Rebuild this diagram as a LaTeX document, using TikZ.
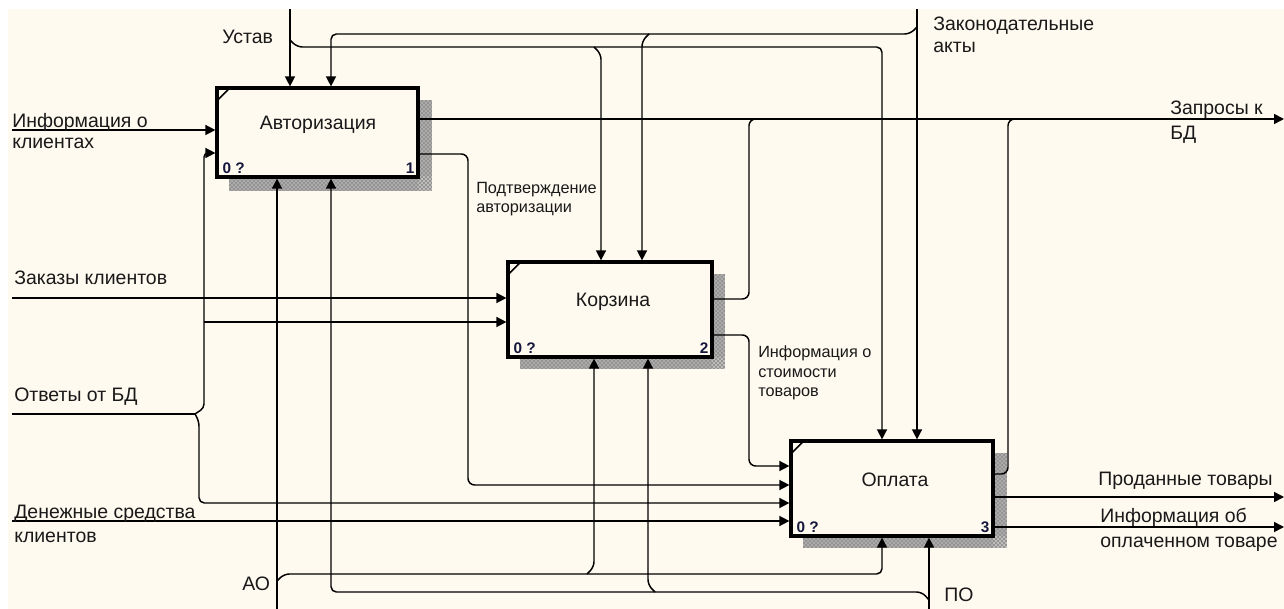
\documentclass[tikz,border=0pt]{standalone}
\usepackage{fontspec}
\setmainfont{Liberation Sans}
\usetikzlibrary{arrows.meta,patterns,calc}
\definecolor{cream}{RGB}{255,250,239}
\definecolor{numcol}{RGB}{20,22,60}
\newcommand{\mylarge}{\fontsize{14.6}{18}\selectfont}
\newcommand{\mysmall}{\fontsize{12.2}{14}\selectfont}
\newcommand{\mynum}{\fontsize{11.5}{13}\selectfont\bfseries}
\begin{document}
\begin{tikzpicture}[x=0.75pt,y=-0.75pt,
  conn/.style={line width=1.1pt, rounded corners=3pt},
  arr/.style={conn, -{Triangle[length=7.5pt,width=7.5pt]}},
  box/.style={draw, line width=2.4pt, fill=cream, inner sep=0pt},
  shadebase/.style={fill=black!42},
  shade/.style={pattern=crosshatch dots, pattern color=cream},
  tl/.style={font=\mylarge, anchor=base west, inner sep=0pt, text=black!90},
  ts/.style={font=\mysmall, anchor=base west, inner sep=0pt, text=black!90},
  bl/.style={font=\mylarge, anchor=base, inner sep=0pt, text=black!90},
  num/.style={font=\mynum, text=numcol, inner sep=0pt}]
% background
\fill[white] (0,0) rectangle (1284,609);
\fill[cream] (8,9) rectangle (1284,609);
\useasboundingbox (0,0) rectangle (1284,609);
% shadows
\foreach \st in {shadebase,shade}{
  \fill[\st] (418,100) rectangle (432,191);
  \fill[\st] (229,177) rectangle (432,191);
  \fill[\st] (712,274) rectangle (725,369);
  \fill[\st] (520,357) rectangle (725,369);
  \fill[\st] (993,453) rectangle (1007,548);
  \fill[\st] (803,536) rectangle (1007,548);
}
% boxes
\node[box, minimum width=150.75pt, minimum height=66.75pt] (A) at (317.5,132.5) {};
\node[box, minimum width=153pt, minimum height=71.25pt] (K) at (610,309.5) {};
\node[box, minimum width=151.5pt, minimum height=71.25pt] (O) at (892,488.5) {};
\foreach \b in {A,K,O}{
  \draw[line width=1.2pt] ($(\b.north west)+(3,13)$) -- ++(10,-10);
}
\node[bl] (Alab) at (318,130) {Авторизация};
\node[bl] (Klab) at (613,307) {Корзина};
\node[bl] (Olab) at (895,486) {Оплата};
\node[num, anchor=south west] (An0) at ($(A.south west)+(7,-5)$) {0 ?};
\node[num, anchor=south east] (An1) at ($(A.south east)+(-5,-5)$) {1};
\node[num, anchor=south west] (Kn0) at ($(K.south west)+(7,-5)$) {0 ?};
\node[num, anchor=south east] (Kn1) at ($(K.south east)+(-5,-5)$) {2};
\node[num, anchor=south west] (On0) at ($(O.south west)+(7,-5)$) {0 ?};
\node[num, anchor=south east] (On1) at ($(O.south east)+(-5,-5)$) {3};
% free ends
\coordinate (infoIn) at (12,130);
\coordinate (zakazIn) at (12,298);
\coordinate (otvIn) at (12,414);
\coordinate (denIn) at (12,521);
\coordinate (jn) at (195,414);
\coordinate (ustav) at (290,9);
\coordinate (zak) at (917,9);
\coordinate (ao) at (277,609);
\coordinate (po) at (929,609);
\coordinate (zapOut) at (1284,119);
\coordinate (prodOut) at (1284,497);
\coordinate (oplOut) at (1284,527);
% inputs
\draw[arr] (infoIn) -- (A.west |- infoIn);
\draw[arr] (zakazIn) -- (K.west |- zakazIn);
\draw[arr] (denIn) -- (O.west |- denIn);
\draw[conn] (otvIn) -- (jn);
\draw[arr] (jn) -- (204,408) -- (204,153) -- (A.west |- 0,153);
\draw[arr] (204,322) -- (K.west |- 0,322);
\draw[arr, rounded corners=4pt] (jn) -- (199,421) -- (199,503) -- (O.west |- 0,503);
% internal arrows
\draw[arr, rounded corners=5pt] (A.east |- 0,154) -- (468,154) -- (468,485) -- (O.west |- 0,485);
\draw[arr, rounded corners=5pt] (K.east |- 0,335) -- (749,335) -- (749,466) -- (O.west |- 0,466);
% outputs
\draw[arr] (A.east |- zapOut) -- (zapOut);
\draw[conn, rounded corners=5pt] (K.east |- 0,299) -- (749,299) -- (749,119) -- (760,119);
\draw[conn, rounded corners=5pt] (O.east |- 0,474) -- (1008,474) -- (1008,119) -- (1019,119);
\draw[arr] (O.east |- prodOut) -- (prodOut);
\draw[arr] (O.east |- oplOut) -- (oplOut);
% controls
\draw[arr] (ustav) -- (ustav |- A.north);
\draw[arr, rounded corners=4pt] (290,40) -- (297,47) -- (882,47) -- (882,0 |- O.north);
\draw[arr, rounded corners=4pt] (594,47) -- (601,54) -- (601,0 |- K.north);
\draw[arr] (zak) -- (zak |- O.north);
\draw[arr, rounded corners=4pt] (917,27) -- (910,34) -- (331,34) -- (331,0 |- A.north);
\draw[arr, rounded corners=4pt] (649,34) -- (642,41) -- (642,0 |- K.north);
% mechanisms
\draw[arr] (ao) -- (ao |- A.south);
\draw[arr, rounded corners=4pt] (277,581) -- (284,574) -- (882,574) -- (882,0 |- O.south);
\draw[arr, rounded corners=4pt] (587,574) -- (594,567) -- (594,0 |- K.south);
\draw[arr] (po) -- (po |- O.south);
\draw[arr, rounded corners=4pt] (929,600) -- (922,592) -- (331,592) -- (331,0 |- A.south);
\draw[arr, rounded corners=4pt] (655,592) -- (648,585) -- (648,0 |- K.south);
% labels
\node[tl] (l1a) at (12,128) {Информация о};
\node[tl] (l1b) at (12,149) {клиентах};
\node[tl] (l2) at (14,285) {Заказы клиентов};
\node[tl] (l3) at (14,401) {Ответы от БД};
\node[tl] (l4a) at (14,518) {Денежные средства};
\node[tl] (l4b) at (14,542) {клиентов};
\node[tl] (l5) at (222,44) {Устав};
\node[tl] (l6a) at (933,31) {Законодательные};
\node[tl] (l6b) at (933,53) {акты};
\node[tl] (l7a) at (1170,115) {Запросы к};
\node[tl] (l7b) at (1170,140) {БД};
\node[tl] (l8) at (1098,485) {Проданные товары};
\node[tl] (l9a) at (1100,522) {Информация об};
\node[tl] (l9b) at (1100,547) {оплаченном товаре};
\node[tl] (l10) at (242,590) {АО};
\node[tl] (l11) at (944,601) {ПО};
\node[ts] (s1a) at (476,194) {Подтверждение};
\node[ts] (s1b) at (476,213) {авторизации};
\node[ts] (s2a) at (758,358) {Информация о};
\node[ts] (s2b) at (758,377) {стоимости};
\node[ts] (s2c) at (758,396) {товаров};
\end{tikzpicture}
\end{document}
